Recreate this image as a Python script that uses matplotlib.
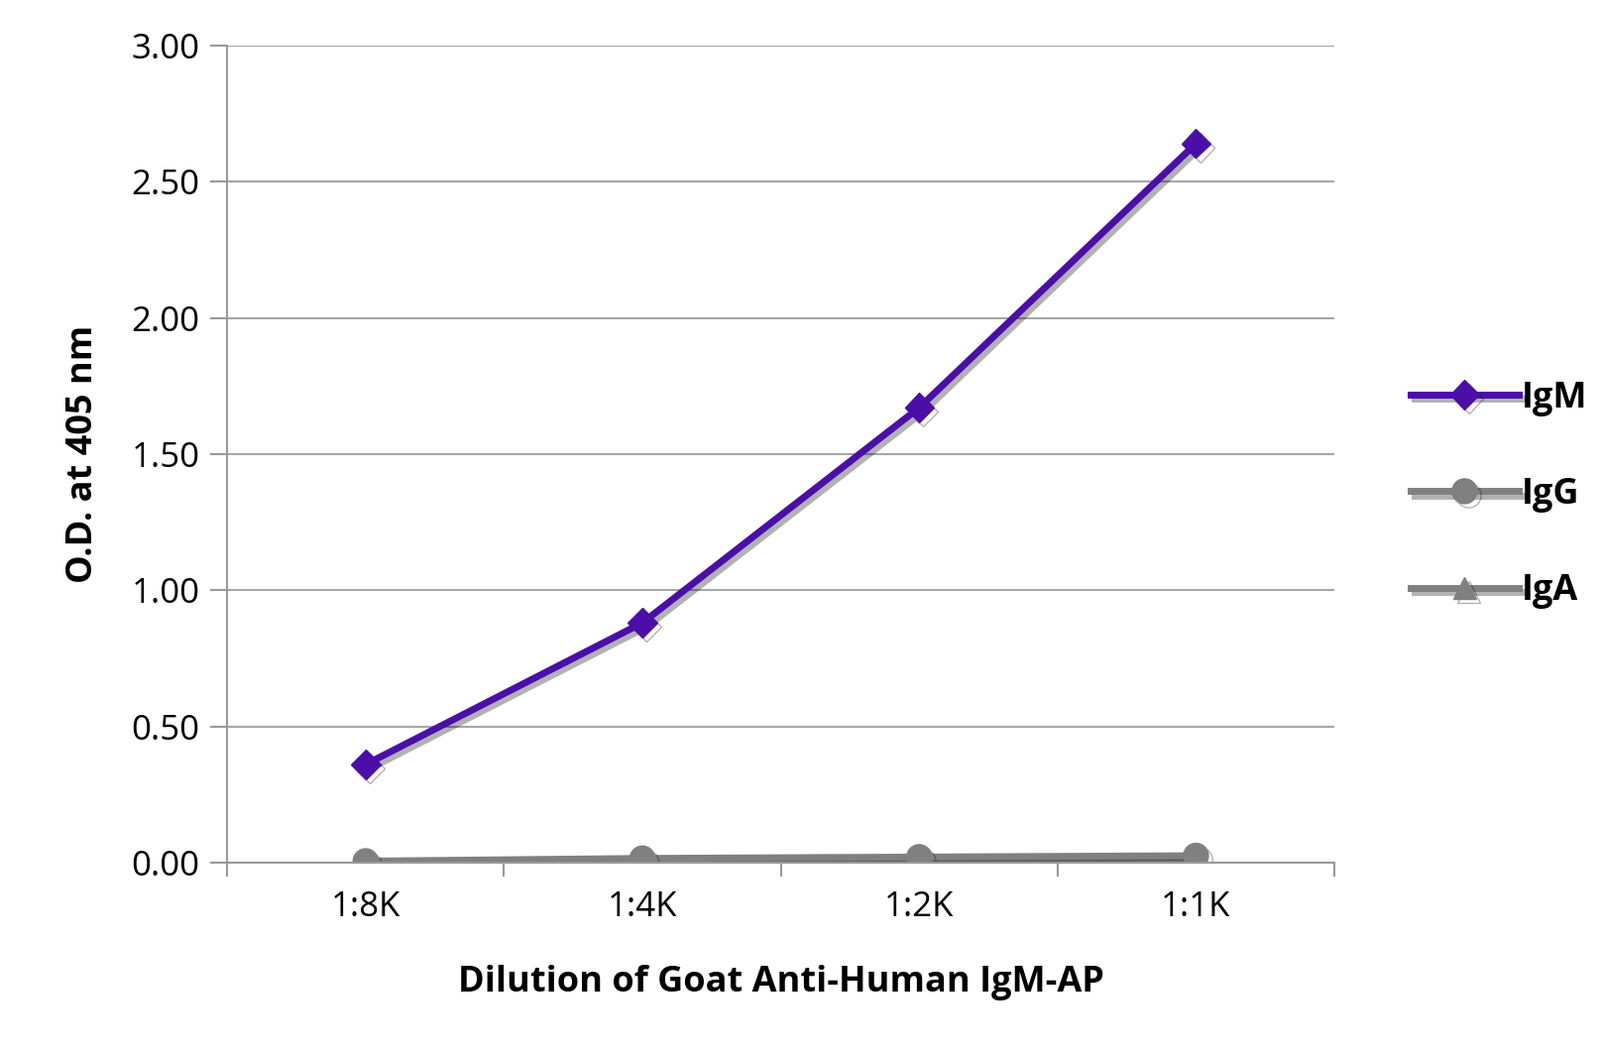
import matplotlib
matplotlib.use("Agg")
import matplotlib.pyplot as plt
import matplotlib.patheffects as pe
import numpy as np

plt.rcParams["font.family"] = "Open Sans"

dilutions = ["1:8K", "1:4K", "1:2K", "1:1K"]
igm = [0.36, 0.88, 1.67, 2.64]
igg = [0.005, 0.015, 0.02, 0.025]
iga = [0.003, 0.01, 0.015, 0.018]

fig = plt.figure(figsize=(16.14, 10.66), dpi=100)
ax = fig.add_axes([0.142, 0.184, 0.692, 0.773])

x = np.arange(len(dilutions))
shadow = [pe.SimpleLineShadow(offset=(3, -3), alpha=0.3), pe.Normal()]
ax.plot(x, iga, color="#808080", lw=5, marker="^", ms=16, label="IgA", path_effects=shadow)
ax.plot(x, igg, color="#808080", lw=5, marker="o", ms=18, label="IgG", path_effects=shadow)
ax.plot(x, igm, color="#4b0fa8", lw=5, marker="D", ms=15, label="IgM", path_effects=shadow)

ax.set_xlim(-0.5, 3.5)
ax.set_ylim(0, 3.0)
ax.set_yticks(np.arange(0, 3.01, 0.5))
ax.set_yticklabels([f"{v:.2f}" for v in np.arange(0, 3.01, 0.5)])
ax.set_xticks(x)
ax.set_xticklabels(dilutions)
ax.set_xticks(np.arange(-0.5, 3.6, 1), minor=True)
ax.tick_params(axis="x", which="major", length=0, labelsize=25, pad=20)
ax.tick_params(axis="x", which="minor", length=10, color="#999999", width=1.5)
ax.tick_params(axis="y", length=12, color="#999999", width=1.5, labelsize=25, pad=8)
ax.grid(axis="y", color="#a6a6a6", lw=1.5)
ax.set_axisbelow(True)
for s in ["top", "right"]:
    ax.spines[s].set_visible(False)
ax.spines["left"].set_color("#999999")
ax.spines["bottom"].set_color("#999999")
ax.spines["left"].set_linewidth(1.5)
ax.spines["bottom"].set_linewidth(1.5)

ax.set_xlabel("Dilution of Goat Anti-Human IgM-AP", fontsize=26, fontweight="bold", labelpad=30)
ax.set_ylabel("O.D. at 405 nm", fontsize=26, fontweight="bold", labelpad=22)

h, l = ax.get_legend_handles_labels()
leg = ax.legend(h[::-1], l[::-1], loc="center left", bbox_to_anchor=(1.04, 0.45),
                frameon=False, handlelength=3.0, labelspacing=1.7,
                handletextpad=0.1, prop={"weight": "bold", "size": 26})

fig.savefig("out.png", dpi=100)
